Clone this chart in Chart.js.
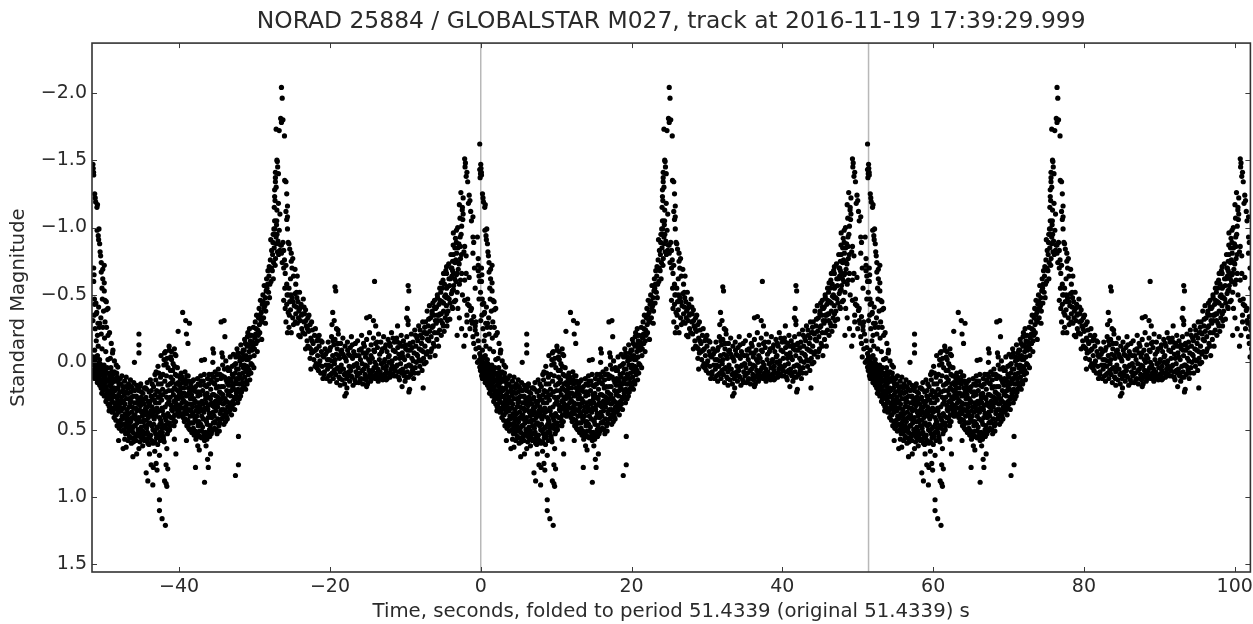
<!DOCTYPE html>
<html>
<head>
<meta charset="utf-8">
<script src="https://cdn.jsdelivr.net/npm/chart.js@4/dist/chart.umd.min.js"></script>
<style>
html,body{margin:0;padding:0;background:#fff;overflow:hidden;}
#wrap{width:1253px;height:624px;}
</style>
</head>
<body>
<div id="wrap"><canvas id="c" width="1253" height="624"></canvas></div>
<script>
// ---- chart texts ----
const titleText = "NORAD 25884 / GLOBALSTAR M027, track at 2016-11-19 17:39:29.999";
const xLabel = "Time, seconds, folded to period 51.4339 (original 51.4339) s";
const yLabel = "Standard Magnitude";

// ---- fold & axes ----
const period = 51.4339;
const foldCopies = [-1, 0, 1];
const markerLines = [0, period];
const xTicks = [-40, -20, 0, 20, 40, 60, 80, 100];
const yTicks = [-2.0, -1.5, -1.0, -0.5, 0.0, 0.5, 1.0, 1.5];

// ---- folded light curve, one period: [phase seconds, magnitude] ----
const descentB = [
[0.00,-1.47],[0.03,-1.44],[0.08,-1.41],[0.10,-1.39],[0.23,-1.25],[0.30,-1.22],[0.36,-1.19],[0.53,-1.15],[0.60,-1.17],
[0.55,-0.98],[0.70,-0.94],[0.80,-0.99],[0.75,-0.91],[0.89,-0.88],[1.02,-0.79],[0.95,-0.82],[1.10,-0.74],[1.50,-0.72],
[1.30,-0.69],[1.30,-0.62],[1.50,-0.59],[1.10,-0.67],[0.10,-0.70],[0.15,-0.65],[0.10,-0.60],[1.50,-0.53],[1.60,-0.46],
[1.80,-0.39],[1.20,-0.55],[1.25,-0.47],[0.20,-0.47],[0.40,-0.44],[0.50,-0.37],[0.22,-0.43],[0.44,-0.36],[1.77,-0.45],
[1.99,-0.40],[0.00,-0.31],[0.66,-0.29],[1.32,-0.26],[0.90,-0.29],[0.85,-0.26],[1.80,-0.26],[2.20,-0.22],[1.10,-0.21],
[0.44,-0.16],[1.54,-0.18],[2.43,-0.14],[2.65,-0.09],[0.22,-0.09],[0.00,-0.04],[0.88,-0.02],[1.99,-0.02],[3.09,0.02],
[3.30,0.035],[1.32,0.06],[1.40,-0.38],[1.60,-0.30],[2.00,-0.20],[2.60,-0.07],[0.60,-0.20],[0.30,-0.25],[0.70,-0.12],
[1.20,-0.10],[1.70,-0.08],[0.35,0.00],[0.60,-0.05],[1.05,-0.33],[0.15,-0.35],[0.75,-0.41],[2.30,-0.03],[2.85,-0.01]
];
const peakB = [
[51.30,-1.62],[49.30,-1.51],[49.40,-1.48],[49.35,-1.45],[49.60,-1.41],[49.50,-1.38],[49.70,-1.34],[51.30,-1.43],[51.40,-1.40],
[51.35,-1.37],[48.80,-1.26],[49.10,-1.22],[49.90,-1.24],[50.00,-1.20],[49.80,-1.18],[49.00,-1.15],[49.10,-1.10],[49.05,-1.06],
[50.10,-1.12],[50.40,-1.08],[50.20,-1.05],[48.20,-0.98],[47.80,-0.96],[48.70,-0.93],[48.20,-0.89],[48.00,-0.85],[47.80,-0.80],
[47.70,-0.75],[47.60,-0.70],[49.30,-0.86],[49.20,-0.82],[49.50,-0.79],[50.40,-0.93],[50.50,-0.89],[50.40,-0.81],[46.90,-0.71],
[46.50,-0.66],[46.90,-0.66],[47.60,-0.64],[48.20,-0.65],[49.50,-0.66],[49.90,-0.63],[49.30,-0.61],[51.10,-0.68],[51.20,-0.64],
[51.30,-0.60],[46.20,-0.59],[46.00,-0.55],[46.90,-0.55],[47.30,-0.57],[47.80,-0.54],[45.70,-0.48],[45.30,-0.46],[46.50,-0.44],
[46.90,-0.48],[49.00,-0.50],[49.30,-0.46],[49.70,-0.47],[49.90,-0.42],[50.20,-0.40],[45.30,-0.41],[45.00,-0.38],[45.70,-0.35],
[46.20,-0.36],[47.00,-0.31],[49.60,-0.35],[50.20,-0.31],[50.70,-0.27],[50.99,-0.93],[51.10,-0.77],[51.10,-0.72],[51.40,-0.52],
[51.20,-0.47],[49.70,-0.43],[50.10,-0.385],[50.50,-0.34],[50.30,-0.29],[50.70,-0.24],[50.90,-0.21],[51.10,-0.16],[50.50,-0.14],
[51.20,-0.11],[51.30,-0.065],[51.20,-0.015],[51.30,0.035],[51.40,0.06],[50.80,-0.30],[50.00,-0.25],[50.40,-0.19],[49.60,-0.30],
[49.40,-0.20],[48.90,-0.25],[49.20,-0.12],[50.80,-0.10],[51.00,0.00],[50.60,-0.04],[48.60,-0.33],[48.40,-0.40],[48.10,-0.46],
[47.70,-0.40],[48.30,-0.20],[48.60,-1.17],[48.90,-1.01],[50.70,-0.55],[50.60,-0.70],[48.45,-0.74],[48.75,-0.61]
];
const troughEarly = [
[0.05,0.02],[0.18,0.08],[0.27,-0.03],[0.41,0.05],[0.12,0.10],[0.33,0.04],[0.46,0.09],
[0.55,0.03],[0.62,0.12],[0.71,0.07],[0.84,0.14],[0.93,0.01],[0.67,0.10],[0.88,0.06],[0.58,0.15],
[1.04,0.05],[1.13,0.16],[1.22,0.09],[1.31,0.21],[1.39,0.12],[1.47,0.02],[1.08,0.19],[1.36,0.07],[1.44,0.17],
[1.52,0.10],[1.61,0.24],[1.70,0.05],[1.78,0.18],[1.86,0.27],[1.94,0.13],[1.58,0.15],[1.83,0.08],[1.66,0.20],[1.97,0.22],
[2.03,0.08],[2.12,0.26],[2.21,0.17],[2.29,0.31],[2.38,0.04],[2.46,0.21],[2.09,0.14],[2.33,0.24],[2.17,0.33],[2.42,0.12],
[2.53,0.29],[2.61,0.09],[2.70,0.36],[2.78,0.19],[2.87,0.25],[2.95,0.33],[2.57,0.15],[2.82,0.07],[2.66,0.22],[2.91,0.14],
[3.02,0.20],[3.11,0.39],[3.19,0.11],[3.28,0.28],[3.36,0.44],[3.45,0.16],[3.07,0.31],[3.24,0.35],[3.41,0.24],[3.15,0.08],[3.32,0.19],
[3.53,0.33],[3.62,0.12],[3.70,0.47],[3.79,0.26],[3.87,0.40],[3.96,0.18],[3.58,0.22],[3.75,0.36],[3.92,0.30],[3.66,0.43],[3.84,0.10],
[4.03,0.29],[4.12,0.50],[4.20,0.14],[4.29,0.38],[4.37,0.22],[4.46,0.45],[4.08,0.41],[4.25,0.31],[4.41,0.11],[4.16,0.24],[4.33,0.53],
[4.54,0.35],[4.63,0.19],[4.71,0.49],[4.80,0.27],[4.88,0.42],[4.97,0.13],[4.59,0.52],[4.76,0.38],[4.93,0.30],[4.67,0.23],[4.84,0.55],
[5.02,0.44],[5.11,0.18],[5.19,0.33],[5.28,0.56],[5.36,0.25],[5.45,0.40],[5.07,0.29],[5.24,0.49],[5.41,0.15],[5.15,0.37],[5.32,0.52],
[5.53,0.21],[5.62,0.47],[5.70,0.34],[5.79,0.17],[5.87,0.53],[5.96,0.29],[5.58,0.39],[5.75,0.25],[5.92,0.42],[5.66,0.55],[5.83,0.36]
];
const troughMid = [
[6.04,0.31],[6.12,0.52],[6.21,0.18],[6.29,0.44],[6.38,0.26],[6.46,0.37],[6.08,0.21],[6.25,0.55],[6.42,0.48],[6.17,0.35],[6.33,0.16],
[6.54,0.40],[6.63,0.23],[6.71,0.56],[6.80,0.31],[6.88,0.47],[6.97,0.19],[6.59,0.51],[6.76,0.36],[6.93,0.27],[6.67,0.44],[6.84,0.58],
[7.03,0.26],[7.11,0.49],[7.20,0.15],[7.28,0.60],[7.37,0.38],[7.45,0.22],[7.07,0.43],[7.24,0.33],[7.41,0.55],[7.16,0.57],[7.33,0.46],
[7.53,0.45],[7.62,0.13],[7.70,0.36],[7.79,0.58],[7.87,0.27],[7.96,0.50],[7.58,0.29],[7.75,0.21],[7.92,0.40],[7.66,0.54],[7.83,0.33],
[8.04,0.18],[8.12,0.42],[8.21,0.59],[8.29,0.30],[8.38,0.07],[8.46,0.49],[8.08,0.35],[8.25,0.24],[8.42,0.56],[8.17,0.51],[8.33,0.13],
[8.54,0.37],[8.63,0.03],[8.71,0.55],[8.80,0.22],[8.88,0.46],[8.97,0.11],[8.59,0.61],[8.76,0.30],[8.93,0.58],[8.67,0.16],[8.84,0.41],
[9.03,-0.05],[9.11,0.28],[9.20,0.52],[9.28,0.09],[9.37,0.39],[9.45,0.59],[9.07,0.45],[9.24,0.20],[9.41,0.02],[9.16,0.34],[9.33,0.55],
[9.53,0.14],[9.62,-0.08],[9.70,0.43],[9.79,0.26],[9.87,0.53],[9.96,0.04],[9.58,0.33],[9.75,0.10],[9.92,0.38],[9.66,0.49],[9.83,-0.03],
[10.04,0.21],[10.12,-0.09],[10.21,0.47],[10.29,0.06],[10.38,0.32],[10.46,0.15],[10.08,0.40],[10.25,0.26],[10.42,-0.02],[10.17,0.50],[10.33,0.11],
[10.54,0.36],[10.63,0.01],[10.71,0.44],[10.80,0.19],[10.88,-0.06],[10.97,0.28],[10.59,0.13],[10.76,0.47],[10.93,0.09],[10.67,0.24],[10.84,0.39],
[11.03,0.16],[11.11,0.35],[11.20,0.04],[11.28,0.27],[11.37,0.40],[11.45,0.10],[11.07,0.31],[11.24,0.21],[11.41,0.36],
[10.10,-0.12],[10.80,-0.10],[9.50,-0.07],[11.00,-0.05],[10.40,-0.08]
];
const troughLate = [
[11.53,0.22],[11.62,0.38],[11.70,0.08],[11.79,0.30],[11.87,0.15],[11.96,0.41],[11.58,0.12],[11.75,0.26],[11.92,0.34],
[12.04,0.19],[12.12,0.44],[12.21,0.07],[12.29,0.33],[12.38,0.25],[12.46,0.47],[12.08,0.29],[12.25,0.13],[12.42,0.38],[12.17,0.37],
[12.54,0.31],[12.63,0.10],[12.71,0.49],[12.80,0.22],[12.88,0.40],[12.97,0.16],[12.59,0.43],[12.76,0.35],[12.93,0.27],[12.67,0.19],
[13.03,0.36],[13.11,0.52],[13.20,0.14],[13.28,0.45],[13.37,0.27],[13.45,0.21],[13.07,0.24],[13.24,0.38],[13.41,0.54],[13.16,0.31],
[13.53,0.42],[13.62,0.18],[13.70,0.55],[13.79,0.33],[13.87,0.12],[13.96,0.47],[13.58,0.29],[13.75,0.40],[13.92,0.25],[13.66,0.57],
[14.04,0.22],[14.12,0.51],[14.21,0.36],[14.29,0.10],[14.38,0.56],[14.46,0.29],[14.08,0.44],[14.25,0.17],[14.42,0.40],[14.17,0.33],
[14.54,0.48],[14.63,0.14],[14.71,0.37],[14.80,0.58],[14.88,0.24],[14.97,0.43],[14.59,0.31],[14.76,0.09],[14.93,0.52],[14.67,0.55],
[15.03,0.30],[15.11,0.57],[15.20,0.12],[15.28,0.41],[15.37,0.26],[15.45,0.50],[15.07,0.18],[15.24,0.35],[15.41,0.09],[15.16,0.46],
[15.53,0.38],[15.62,0.20],[15.70,0.53],[15.79,0.09],[15.87,0.32],[15.96,0.45],[15.58,0.27],[15.75,0.41],[15.92,0.15],[15.66,0.50],
[16.04,0.24],[16.12,0.49],[16.21,0.07],[16.29,0.36],[16.38,0.19],[16.46,0.53],[16.08,0.40],[16.25,0.29],[16.42,0.13],[16.17,0.44],
[16.54,0.33],[16.63,0.05],[16.71,0.47],[16.80,0.22],[16.88,0.38],[16.97,0.12],[16.59,0.26],[16.76,0.51],[16.93,0.30],
[17.03,0.18],[17.11,0.42],[17.20,0.02],[17.28,0.31],[17.37,0.46],[17.45,0.11],[17.07,0.35],[17.24,0.24],[17.41,0.39],
[17.53,0.27],[17.62,-0.01],[17.70,0.40],[17.79,0.15],[17.87,0.33],[17.96,0.06],[17.58,0.44],[17.75,0.21],[17.92,0.37],
[18.04,0.12],[18.12,0.36],[18.21,-0.04],[18.29,0.25],[18.38,0.39],[18.46,0.03],[18.08,0.22],[18.25,0.31],[18.42,0.17],
[18.54,0.29],[18.63,-0.06],[18.71,0.20],[18.80,0.35],[18.88,0.08],[18.97,0.14],[18.59,0.11],[18.76,0.26],[18.93,0.01],
[19.03,0.23],[19.11,-0.10],[19.20,0.30],[19.28,0.05],[19.37,0.16],[19.45,-0.04],[19.07,0.12],[19.24,0.20],[19.41,0.27],
[19.53,0.09],[19.62,-0.13],[19.70,0.22],[19.79,-0.02],[19.87,0.15],[19.96,0.04],[19.58,0.25],[19.75,0.12],[19.92,-0.09],
[20.04,0.18],[20.12,-0.17],[20.21,0.07],[20.29,-0.05],[20.38,0.14],[20.46,-0.12],[20.08,0.02],[20.25,0.20],[20.42,0.03],
[20.54,-0.22],[20.63,0.09],[20.71,-0.08],[20.80,0.13],[20.88,-0.16],[20.97,0.01],[20.59,-0.02],[20.76,-0.25],[20.93,-0.10]
];
const troughFill = [
[0.02,0.06],[0.14,-0.01],[0.22,0.12],[0.30,0.07],[0.37,-0.04],[0.44,0.11],[0.49,0.03],
[0.52,0.09],[0.60,0.01],[0.68,0.14],[0.75,0.04],[0.81,0.11],[0.90,0.17],[0.97,0.08],
[1.01,0.13],[1.10,0.02],[1.17,0.23],[1.25,0.14],[1.33,0.04],[1.41,0.19],[1.49,0.25],
[1.55,0.20],[1.63,0.11],[1.72,0.29],[1.80,0.14],[1.88,0.04],[1.92,0.23],[1.99,0.31],
[2.05,0.21],[2.14,0.36],[2.23,0.10],[2.31,0.27],[2.40,0.18],[2.44,0.34],[2.49,0.07],
[2.55,0.37],[2.63,0.26],[2.72,0.12],[2.80,0.41],[2.84,0.30],[2.93,0.21],[2.99,0.39],
[3.04,0.43],[3.13,0.26],[3.21,0.47],[3.30,0.14],[3.38,0.37],[3.43,0.31],[3.48,0.49],
[3.55,0.45],[3.64,0.29],[3.72,0.16],[3.81,0.51],[3.86,0.34],[3.94,0.42],[3.99,0.21],
[4.05,0.46],[4.14,0.34],[4.22,0.57],[4.31,0.18],[4.39,0.48],[4.44,0.27],[4.49,0.40],
[4.56,0.43],[4.65,0.58],[4.73,0.16],[4.82,0.33],[4.86,0.47],[4.95,0.56],[4.99,0.22],
[5.05,0.51],[5.13,0.26],[5.22,0.41],[5.30,0.20],[5.38,0.59],[5.43,0.34],[5.49,0.47],
[5.56,0.30],[5.64,0.42],[5.73,0.58],[5.81,0.26],[5.85,0.45],[5.94,0.19],[5.99,0.50],
[6.06,0.41],[6.14,0.27],[6.23,0.59],[6.31,0.32],[6.36,0.49],[6.44,0.22],[6.49,0.57],
[6.56,0.29],[6.65,0.53],[6.73,0.43],[6.82,0.19],[6.86,0.39],[6.95,0.53],[6.99,0.34],
[7.05,0.36],[7.13,0.20],[7.22,0.52],[7.30,0.29],[7.35,0.41],[7.43,0.61],[7.49,0.31],
[7.55,0.56],[7.64,0.39],[7.72,0.25],[7.81,0.47],[7.85,0.16],[7.94,0.37],[7.99,0.60],
[8.06,0.46],[8.14,0.28],[8.23,0.09],[8.31,0.53],[8.36,0.40],[8.44,0.21],[8.49,0.34],
[8.56,0.48],[8.65,0.26],[8.74,0.08],[8.82,0.36],[8.86,0.52],[8.95,0.25],[8.99,0.43],
[9.05,0.16],[9.13,0.49],[9.22,0.36],[9.30,0.24],[9.35,0.57],[9.43,-0.02],[9.49,0.47],
[9.55,0.41],[9.64,0.22],[9.72,0.01],[9.81,0.46],[9.85,0.31],[9.94,0.17],[9.99,0.51],
[10.06,0.29],[10.14,0.45],[10.23,0.16],[10.31,-0.04],[10.36,0.41],[10.44,0.35],[10.49,0.21],
[10.56,0.06],[10.65,0.41],[10.73,0.29],[10.82,0.03],[10.86,0.33],[10.95,0.44],[10.99,0.20],
[11.05,0.26],[11.14,0.10],[11.22,0.38],[11.31,0.15],[11.35,0.32],[11.43,0.24],[11.49,0.17],
[11.56,0.33],[11.65,0.19],[11.73,0.39],[11.82,0.11],[11.86,0.23],[11.95,0.28],[11.99,0.13],
[12.06,0.38],[12.14,0.23],[12.23,0.42],[12.32,0.16],[12.36,0.30],[12.44,0.10],[12.49,0.35],
[12.56,0.24],[12.65,0.46],[12.73,0.14],[12.82,0.31],[12.86,0.50],[12.95,0.36],[12.99,0.21],
[13.05,0.45],[13.14,0.19],[13.22,0.33],[13.31,0.49],[13.35,0.13],[13.44,0.40],[13.49,0.30],
[13.56,0.51],[13.65,0.36],[13.73,0.22],[13.82,0.44],[13.86,0.53],[13.95,0.16],[13.99,0.37],
[14.06,0.30],[14.14,0.55],[14.23,0.24],[14.31,0.46],[14.36,0.14],[14.44,0.51],[14.49,0.35],
[14.56,0.21],[14.65,0.42],[14.73,0.53],[14.82,0.17],[14.86,0.34],[14.95,0.27],[14.99,0.56],
[15.05,0.44],[15.14,0.23],[15.22,0.53],[15.31,0.32],[15.35,0.16],[15.44,0.38],[15.49,0.55],
[15.56,0.47],[15.65,0.13],[15.73,0.30],[15.82,0.51],[15.86,0.24],[15.95,0.37],[15.99,0.11],
[16.06,0.33],[16.14,0.16],[16.23,0.45],[16.32,0.25],[16.36,0.50],[16.44,0.31],[16.49,0.09],
[16.56,0.42],[16.65,0.18],[16.73,0.29],[16.82,0.45],[16.86,0.09],[16.95,0.36],[16.99,0.23],
[17.05,0.27],[17.14,0.10],[17.22,0.41],[17.31,0.18],[17.36,0.35],[17.44,0.05],[17.49,0.30],
[17.56,0.36],[17.65,0.13],[17.73,0.29],[17.82,0.42],[17.86,0.04],[17.95,0.24],[17.99,0.17],
[18.06,0.30],[18.14,0.06],[18.23,0.35],[18.32,0.14],[18.36,0.21],[18.44,0.33],[18.49,0.09],
[18.56,0.19],[18.65,0.31],[18.73,0.02],[18.82,0.16],[18.86,0.27],[18.95,-0.04],[18.99,0.21],
[19.05,0.05],[19.14,0.26],[19.22,-0.07],[19.31,0.12],[19.36,0.22],[19.44,0.09],[19.49,-0.01],
[19.56,0.16],[19.65,0.02],[19.73,0.20],[19.82,-0.07],[19.86,0.08],[19.95,0.19],[19.99,-0.04],
[20.06,-0.09],[20.14,0.11],[20.23,-0.14],[20.32,0.05],[20.36,-0.02],[20.44,0.16],[20.49,-0.19],
[20.56,0.04],[20.65,-0.13],[20.73,0.06],[20.82,-0.20],[20.86,-0.04],[20.95,0.08],[20.99,-0.15]
];
const dipOutliers = [
[7.06,0.82],[7.28,0.88],[7.94,0.91],[7.72,0.76],[8.38,0.75],[8.82,0.69],[9.70,0.76],[9.92,0.79],[9.70,0.90],[8.82,1.02],
[8.82,1.10],[9.17,1.16],[9.61,1.21],[9.50,0.88],[9.80,0.92],[8.50,0.80],[8.00,0.78],[5.30,0.70],[4.00,0.64],[4.40,0.63],
[5.80,0.68],[3.40,0.58],[5.10,0.60],[10.80,0.57],[11.00,0.68],[13.60,0.78],[14.80,0.89],[15.20,0.72],[15.60,0.68],[15.30,0.78],
[14.10,0.65],[13.90,0.62],[19.30,0.55],[19.30,0.76],[18.90,0.84],[12.40,0.58],[15.00,0.62],[8.20,0.66],[7.50,0.68],[9.80,0.64],
[6.60,0.62],[6.10,0.64],
[6.10,-0.21],[6.10,-0.13],[6.10,-0.07],[5.50,0.00],[11.90,-0.37],[12.30,-0.31],[12.80,-0.29],[11.30,-0.23],[12.40,-0.21],
[12.60,-0.14],[15.90,-0.10],[15.90,0.00],[14.80,-0.02],[17.00,-0.30],[17.40,-0.31],[17.50,-0.19],[17.10,-0.07],[17.20,-0.04],
[16.00,-0.07],[14.40,-0.015]
];
const riseA = [
[21.03,-0.20],[21.12,0.02],[21.21,-0.12],[21.29,-0.26],[21.38,-0.05],[21.46,-0.18],[21.08,-0.09],[21.34,0.04],
[21.53,-0.30],[21.62,-0.14],[21.70,-0.35],[21.79,-0.08],[21.87,-0.24],[21.96,-0.33],[21.58,-0.21],[21.83,-0.16],
[22.04,-0.40],[22.12,-0.22],[22.21,-0.46],[22.29,-0.31],[22.38,-0.17],[22.46,-0.43],[22.08,-0.28],[22.33,-0.37],
[22.54,-0.50],[22.63,-0.33],[22.71,-0.57],[22.80,-0.42],[22.88,-0.29],[22.97,-0.53],[22.59,-0.45],[22.84,-0.48],
[23.03,-0.62],[23.12,-0.44],[23.21,-0.68],[23.29,-0.52],[23.38,-0.71],[23.46,-0.58],[23.08,-0.55],[23.34,-0.64],
[23.53,-0.76],[23.62,-0.60],[23.70,-0.83],[23.79,-0.68],[23.87,-0.89],[23.96,-0.74],[23.58,-0.91],[23.83,-0.80],
[24.04,-0.85],[24.12,-0.99],[24.21,-0.77],[24.29,-0.93],[24.38,-1.05],[24.46,-0.82],[24.08,-0.95],[24.33,-0.88],
[24.54,-0.90],[24.63,-0.80],[24.71,-0.98],[24.80,-0.83],[24.88,-0.87],
[21.16,-0.15],[21.42,-0.10],[21.66,-0.25],[21.92,-0.20],[22.17,-0.35],[22.42,-0.30],[22.67,-0.40],[22.92,-0.38],
[23.17,-0.58],[23.42,-0.48],[23.67,-0.70],[23.92,-0.62],[24.17,-0.72],[24.42,-0.95]
];
const peakA = [
[24.10,-1.28],[24.20,-1.34],[24.20,-1.37],[24.20,-1.41],[24.40,-1.50],[24.45,-1.49],[24.30,-1.73],[24.70,-1.72],[25.00,-2.04],
[25.10,-1.96],[24.90,-1.81],[25.20,-1.80],[25.00,-1.78],[25.40,-1.68],[25.60,-1.34],[25.70,-1.25],[25.80,-1.16],[25.80,-1.08],
[25.80,-0.99],[24.80,-1.10],[24.10,-1.05],[24.10,-1.23],[24.15,-1.20],[24.05,-1.15],[24.00,-0.99],[23.90,-0.95],[24.50,-1.45],
[24.30,-1.30],[24.60,-1.18],[24.40,-1.13],[25.43,-1.35],[25.70,-1.06],[25.60,-1.12],[24.60,-1.40],[24.35,-1.02]
];
const fallA = [
[25.0,-0.87],[25.0,-0.81],[25.1,-0.74],[25.3,-0.70],[25.2,-0.89],[25.3,-0.83],[25.4,-0.76],[25.5,-0.66],[25.6,-0.72],
[25.9,-0.89],[26.0,-0.88],[26.1,-0.84],[26.3,-0.81],[26.3,-0.75],[26.4,-0.70],[26.2,-0.62],[26.5,-0.77],[26.6,-0.64],
[26.8,-0.69],[26.9,-0.58],[27.1,-0.64],[27.0,-0.52],[25.7,-0.58],[25.9,-0.50],[26.1,-0.45],[26.3,-0.22],[25.8,-0.22],
[25.3,-0.46],[25.5,-0.40],[25.7,-0.43],[25.9,-0.37],[26.0,-0.55],[26.2,-0.39],[26.4,-0.48],[26.5,-0.33],[26.7,-0.42],
[26.8,-0.51],[26.9,-0.36],[27.1,-0.29],[27.2,-0.45],[27.3,-0.38],[27.4,-0.52],[27.5,-0.31],[27.6,-0.43],[27.7,-0.25],
[27.8,-0.36],[27.9,-0.47],[28.0,-0.30],[28.1,-0.21],[28.2,-0.39],[28.3,-0.27],[28.4,-0.16],[28.5,-0.33],[28.6,-0.23],
[28.7,-0.11],[28.8,-0.28],[28.9,-0.18],[28.9,0.05],[29.0,-0.07],[29.1,-0.24],[29.2,-0.14],[29.3,-0.02],[29.4,-0.20],
[29.5,-0.09],[29.6,0.01],[29.7,-0.16],[29.8,-0.05],[29.9,0.06],[30.0,-0.12],[30.1,-0.01],[30.2,0.08],[30.3,-0.08],
[30.4,0.03],[30.5,0.12],[30.6,-0.04],[30.7,0.07],[30.8,-0.10],[30.9,0.02],[31.0,0.12],
[26.6,-0.28],[27.0,-0.41],[27.5,-0.19],[28.0,-0.41],[28.5,-0.12],[29.0,-0.30],[29.5,-0.25],[30.0,-0.20],[25.6,-0.30],
[26.0,-0.26],[27.3,-0.20],[28.2,-0.10],[28.8,-0.03],[29.7,0.04],[30.4,-0.15],
[25.45,-0.55],[25.75,-0.50],[26.05,-0.35],[26.25,-0.50],[26.55,-0.45],[26.85,-0.30],[27.05,-0.48],[27.25,-0.33],
[27.45,-0.40],[27.65,-0.35],[27.85,-0.22],[28.05,-0.36],[28.25,-0.31],[28.45,-0.25],[28.65,-0.35],[28.85,-0.10],
[29.05,-0.16],[29.25,-0.08],[29.45,0.03],[29.65,-0.10],[29.85,-0.18],[30.05,0.02],[30.25,-0.16],[30.45,-0.05],
[30.65,0.09],[30.85,-0.06]
];
const plateau = [
[31.80,-0.37],[31.70,-0.28],[32.10,-0.56],[32.20,-0.53],[32.00,-0.31],[32.30,-0.25],[32.50,-0.24],[32.80,0.17],[33.40,0.25],
[33.60,0.23],[36.30,0.18],[37.35,-0.60],[36.70,-0.34],[37.20,-0.31],[37.50,-0.27],[36.30,-0.33],[41.80,-0.57],[41.90,-0.53],
[41.70,-0.40],[41.80,-0.31],[41.60,-0.33],[41.80,-0.28],[40.40,-0.27],[41.00,0.18],[41.90,0.22],[43.80,0.19],[38.90,0.13],[42.00,0.20],
[31.05,-0.08],[31.12,0.05],[31.20,-0.15],[31.28,0.10],[31.35,-0.02],[31.43,0.14],[31.50,-0.11],[31.58,0.03],[31.65,-0.19],[31.72,0.08],[31.80,-0.05],[31.88,0.12],[31.95,-0.13],
[32.03,0.01],[32.10,-0.17],[32.18,0.09],[32.25,-0.06],[32.33,0.15],[32.40,-0.10],[32.48,0.04],[32.55,-0.21],[32.63,0.11],[32.70,-0.03],[32.78,0.07],[32.85,-0.14],[32.93,0.02],
[33.00,-0.09],[33.08,0.13],[33.15,-0.18],[33.23,0.05],[33.30,-0.04],[33.38,0.16],[33.45,-0.12],[33.53,0.08],[33.60,-0.01],[33.68,0.19],[33.75,-0.15],[33.83,0.10],[33.90,-0.06],[33.98,0.03],
[34.05,0.14],[34.13,-0.11],[34.20,0.06],[34.28,-0.19],[34.35,0.11],[34.43,-0.03],[34.50,0.17],[34.58,-0.08],[34.65,0.02],[34.73,0.13],[34.80,-0.14],[34.88,0.07],[34.95,-0.05],
[35.03,0.10],[35.10,-0.16],[35.18,0.04],[35.25,0.15],[35.33,-0.09],[35.40,0.08],[35.48,-0.02],[35.55,0.12],[35.63,-0.20],[35.70,0.01],[35.78,0.16],[35.85,-0.07],[35.93,0.05],
[36.00,-0.12],[36.08,0.09],[36.15,-0.04],[36.23,0.13],[36.30,-0.17],[36.38,0.03],[36.45,0.11],[36.53,-0.09],[36.60,0.06],[36.68,-0.22],[36.75,0.00],[36.83,0.14],[36.90,-0.13],[36.98,0.07],
[37.05,-0.03],[37.13,0.10],[37.20,-0.18],[37.28,0.04],[37.35,-0.08],[37.43,0.12],[37.50,-0.14],[37.58,0.02],[37.65,0.08],[37.73,-0.11],[37.80,0.05],[37.88,-0.21],[37.95,0.11],
[38.03,-0.06],[38.10,0.07],[38.18,-0.15],[38.25,0.01],[38.33,0.12],[38.40,-0.10],[38.48,0.04],[38.55,-0.19],[38.63,0.09],[38.70,-0.02],[38.78,0.10],[38.85,-0.13],[38.93,0.03],
[39.00,-0.08],[39.08,0.08],[39.15,-0.17],[39.23,0.00],[39.30,-0.05],[39.38,0.11],[39.45,-0.12],[39.53,0.05],[39.60,-0.22],[39.68,-0.01],[39.75,0.09],[39.83,-0.09],[39.90,0.04],[39.98,-0.15],
[40.05,0.06],[40.13,-0.03],[40.20,0.10],[40.28,-0.18],[40.35,0.02],[40.43,-0.11],[40.50,0.07],[40.58,-0.06],[40.65,0.13],[40.73,-0.14],[40.80,0.01],[40.88,-0.20],[40.95,0.08],
[41.03,-0.07],[41.10,0.05],[41.18,-0.16],[41.25,0.10],[41.33,-0.02],[41.40,0.14],[41.48,-0.10],[41.55,0.03],[41.63,-0.19],[41.70,0.07],[41.78,-0.05],[41.85,0.11],[41.93,-0.13],
[42.00,0.02],[42.08,-0.09],[42.15,0.09],[42.23,-0.21],[42.30,-0.03],[42.38,0.06],[42.45,-0.15],[42.53,0.12],[42.60,-0.07],[42.68,-0.24],[42.75,0.04],[42.83,-0.12],[42.90,0.00],[42.98,-0.18],
[43.05,-0.05],[43.13,0.08],[43.20,-0.27],[43.28,-0.10],[43.35,0.03],[43.43,-0.20],[43.50,-0.01],[43.58,-0.14],[43.65,0.06],[43.73,-0.30],[43.80,-0.08],[43.88,-0.22],[43.95,0.01]
];
const plateauFill = [
[31.09,-0.02],[31.24,0.02],[31.39,-0.09],[31.54,0.09],[31.69,-0.01],[31.84,-0.16],[31.99,0.06],
[32.14,-0.02],[32.29,0.05],[32.44,-0.14],[32.59,-0.05],[32.74,0.12],[32.89,-0.08],
[33.04,0.05],[33.19,-0.06],[33.34,0.09],[33.49,-0.03],[33.64,0.12],[33.79,-0.09],[33.94,0.07],
[34.09,-0.05],[34.24,0.10],[34.39,-0.13],[34.54,0.03],[34.69,-0.06],[34.84,0.15],[34.99,0.01],
[35.14,0.09],[35.29,-0.05],[35.44,0.13],[35.59,-0.10],[35.74,0.06],[35.89,-0.14],[35.99,0.12],
[36.12,0.02],[36.27,-0.07],[36.42,0.16],[36.57,-0.02],[36.72,0.09],[36.87,-0.05],[36.95,0.12],
[37.09,0.06],[37.24,-0.09],[37.39,0.00],[37.54,0.09],[37.69,-0.15],[37.84,0.14],[37.99,-0.02],
[38.14,0.10],[38.29,-0.08],[38.44,0.13],[38.59,0.00],[38.74,-0.11],[38.89,0.06],
[39.04,0.12],[39.19,-0.04],[39.34,-0.14],[39.49,0.08],[39.64,0.02],[39.79,-0.18],[39.94,0.10],
[40.09,-0.08],[40.24,0.03],[40.39,-0.15],[40.54,0.11],[40.69,-0.03],[40.84,0.06],[40.99,-0.12],
[41.14,-0.04],[41.29,0.08],[41.44,-0.13],[41.59,0.11],[41.74,-0.09],[41.89,0.02],
[42.04,-0.14],[42.19,0.03],[42.34,-0.11],[42.49,-0.01],[42.64,0.08],[42.79,-0.20],[42.94,-0.06],
[43.09,-0.16],[43.24,-0.02],[43.39,-0.24],[43.54,-0.09],[43.69,-0.18],[43.84,-0.03],[43.99,-0.26]
];
const riseB = [
[44.03,-0.12],[44.10,-0.30],[44.18,0.00],[44.25,-0.21],[44.33,-0.38],[44.40,-0.08],[44.48,-0.27],[44.55,-0.16],[44.63,-0.42],[44.70,-0.04],[44.78,-0.33],[44.85,-0.19],[44.93,-0.10],
[45.00,-0.26],[45.08,-0.44],[45.15,-0.14],[45.23,-0.35],[45.30,-0.22],[45.38,-0.05],[45.45,-0.40],[45.53,-0.29],[45.60,-0.17],[45.68,-0.50],[45.75,-0.31],[45.83,-0.12],[45.90,-0.43],[45.98,-0.24],
[46.05,-0.36],[46.13,-0.52],[46.20,-0.20],[46.28,-0.45],[46.35,-0.29],[46.43,-0.61],[46.50,-0.38],[46.58,-0.23],[46.65,-0.49],[46.73,-0.33],[46.80,-0.68],[46.88,-0.42],[46.95,-0.27],
[47.03,-0.56],[47.10,-0.38],[47.18,-0.73],[47.25,-0.47],[47.33,-0.32],[47.40,-0.62],[47.48,-0.80],[47.55,-0.51],[47.63,-0.41],[47.70,-0.68],[47.78,-0.87],[47.85,-0.57],[47.93,-0.45],
[48.00,-0.74],[48.08,-0.92],[48.15,-0.60],[48.23,-0.81],[48.30,-0.52],[48.38,-1.00],[48.45,-0.69],[48.53,-0.88],[48.60,-0.58],[48.68,-1.07],[48.75,-0.77],[48.83,-0.95],[48.90,-0.66],[48.98,-1.13],
[44.07,-0.22],[44.22,-0.06],[44.37,-0.17],[44.52,-0.32],[44.67,-0.23],[44.82,-0.08],[44.97,-0.36],
[45.12,-0.27],[45.27,-0.12],[45.42,-0.31],[45.57,-0.41],[45.72,-0.22],[45.87,-0.35],
[46.02,-0.46],[46.17,-0.31],[46.32,-0.55],[46.47,-0.27],[46.62,-0.58],[46.77,-0.50],[46.92,-0.36],
[47.07,-0.48],[47.22,-0.62],[47.37,-0.44],[47.52,-0.70],[47.67,-0.53],[47.82,-0.66],[47.97,-0.62],
[48.12,-0.76],[48.27,-0.66],[48.42,-0.85],[48.57,-0.73],[48.72,-0.86],[48.87,-0.80]
];

const segments = [descentB, peakB, troughEarly, troughMid, troughLate, troughFill, dipOutliers,
                  riseA, peakA, fallA, plateau, plateauFill, riseB];

// ---- build the three folded copies ----
const onePeriod = segments.flat();
const datasets = foldCopies.map(k => ({
  data: onePeriod.map(([t, m]) => ({ x: t + k * period, y: m })),
  backgroundColor: '#000',
  borderWidth: 0,
  pointRadius: 2.6,
  pointHoverRadius: 2.6,
  showLine: false
}));

const FONT = "'DejaVu Sans', 'Liberation Sans', sans-serif";
const TXT = '#2a2a2a';
const fmtNum = (v, d) => (v < 0 ? '\u2212' : '') + Math.abs(v).toFixed(d);

const framePlugin = {
  id: 'frame',
  beforeDatasetsDraw(chart) {
    const { ctx, chartArea: a, scales: { x } } = chart;
    ctx.save();
    ctx.strokeStyle = '#b8b8b8';
    ctx.lineWidth = 1.5;
    markerLines.forEach(v => {
      const px = x.getPixelForValue(v);
      ctx.beginPath(); ctx.moveTo(px, a.top); ctx.lineTo(px, a.bottom); ctx.stroke();
    });
    ctx.restore();
  },
  afterDatasetsDraw(chart) {
    const { ctx, chartArea: a, scales: { x, y } } = chart;
    ctx.save();
    ctx.strokeStyle = '#3a3a3a';
    ctx.lineWidth = 1;
    const L = 5;
    xTicks.forEach(v => {
      const px = Math.round(x.getPixelForValue(v)) + 0.5;
      ctx.beginPath();
      ctx.moveTo(px, a.bottom); ctx.lineTo(px, a.bottom - L);
      ctx.moveTo(px, a.top); ctx.lineTo(px, a.top + L);
      ctx.stroke();
    });
    yTicks.forEach(v => {
      const py = Math.round(y.getPixelForValue(v)) + 0.5;
      ctx.beginPath();
      ctx.moveTo(a.left, py); ctx.lineTo(a.left + L, py);
      ctx.moveTo(a.right, py); ctx.lineTo(a.right - L, py);
      ctx.stroke();
    });
    ctx.lineWidth = 1.6;
    ctx.strokeStyle = '#333';
    ctx.strokeRect(a.left, a.top, a.right - a.left, a.bottom - a.top);
    ctx.restore();
  }
};

new Chart(document.getElementById('c'), {
  type: 'scatter',
  data: { datasets },
  options: {
    responsive: false,
    animation: false,
    events: [],
    layout: { padding: { left: 0, right: 1, top: 0, bottom: 0 } },
    plugins: {
      legend: { display: false },
      tooltip: { enabled: false },
      title: {
        display: true,
        fullSize: false,
        text: titleText,
        color: TXT,
        font: { family: FONT, size: 23.4, weight: 'normal', lineHeight: 1.2 },
        padding: { top: 8, bottom: 7 }
      }
    },
    scales: {
      x: {
        type: 'linear',
        min: -51.56,
        max: 102.08,
        afterBuildTicks: s => { s.ticks = xTicks.map(v => ({ value: v })); },
        afterFit: s => { s.height = 52; s.paddingLeft = 0; s.paddingRight = 0; },
        grid: { display: false, drawTicks: false },
        border: { display: false },
        ticks: {
          color: TXT, padding: 4, maxRotation: 0, autoSkip: false,
          font: { family: FONT, size: 19 },
          callback: v => fmtNum(v, 0)
        },
        title: {
          display: true, text: xLabel, color: TXT,
          font: { family: FONT, size: 19.7 },
          padding: { top: 0, bottom: 0.5 }
        }
      },
      y: {
        type: 'linear',
        reverse: true,
        min: -2.369,
        max: 1.556,
        afterBuildTicks: s => { s.ticks = yTicks.map(v => ({ value: v })); },
        afterFit: s => { s.width = 92; s.paddingTop = 0; s.paddingBottom = 0; },
        grid: { display: false, drawTicks: false },
        border: { display: false },
        ticks: {
          color: TXT, padding: 5, autoSkip: false,
          font: { family: FONT, size: 19 },
          callback: v => fmtNum(v, 1)
        },
        title: {
          display: true, text: yLabel, color: TXT,
          font: { family: FONT, size: 19.5 },
          padding: { top: 7, bottom: 0 }
        }
      }
    }
  },
  plugins: [framePlugin]
});
</script>
</body>
</html>
